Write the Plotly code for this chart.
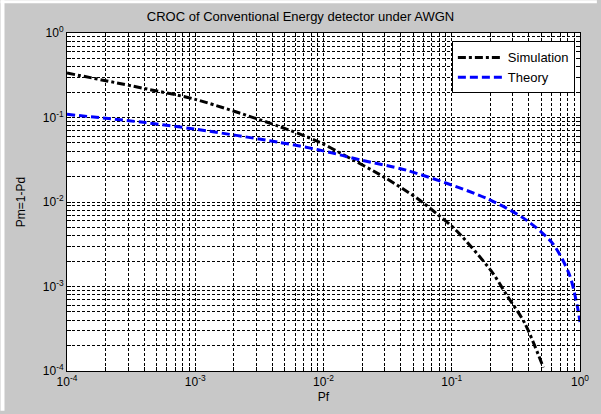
import plotly.graph_objects as go

# Simulation (black dash-dot)
pf_sim = [1e-4, 4.1e-4, 1e-3, 4.45e-3, 9.06e-3, 1.42e-2, 2.97e-2, 5.4e-2, 7.7e-2, 0.11, 0.205, 0.267, 0.37, 0.518]
pm_sim = [0.336, 0.219, 0.164, 0.079, 0.052, 0.0365, 0.0197, 0.011, 0.0072, 0.0045, 0.0015, 8e-4, 3.7e-4, 1.1e-4]

# Theory (blue dashed)
pf_th = [1e-4, 4.1e-4, 1e-3, 4.45e-3, 9.06e-3, 1.42e-2, 2.02e-2, 4.5e-2, 0.188, 0.382, 0.615, 0.826, 0.95, 1.0]
pm_th = [0.109, 0.087, 0.0728, 0.051, 0.0416, 0.0354, 0.031, 0.0236, 0.011, 0.0061, 0.0032, 0.00139, 6e-4, 3.8e-4]

decades = [-4, -3, -2, -1]
tick_vals = []
tick_text = []
for d in decades:
    for m in range(1, 10):
        tick_vals.append(m * 10.0 ** d)
        tick_text.append(f"10<sup>{d}</sup>" if m == 1 else "")
tick_vals.append(1.0)
tick_text.append("10<sup>0</sup>")

FONT = "Liberation Sans, Arial, sans-serif"

fig = go.Figure()
fig.add_trace(go.Scatter(x=pf_sim, y=pm_sim, mode="lines", name="Simulation",
                         line=dict(color="black", width=3, dash="8px,3px,3px,3px", shape="spline", smoothing=0.8)))
fig.add_trace(go.Scatter(x=pf_th, y=pm_th, mode="lines", name="Theory",
                         line=dict(color="#0000ff", width=3, dash="8px,4px", shape="spline", smoothing=0.8)))

grid_common = dict(
    type="log", showline=True, linecolor="black", linewidth=1, mirror="ticks",
    ticks="inside", ticklen=4, tickcolor="black",
    showgrid=True, gridcolor="black", gridwidth=1, griddash="3px,2px",
    tickmode="array", tickvals=tick_vals, ticktext=tick_text,
    tickfont=dict(family=FONT, size=12, color="black"),
    zeroline=False,
)

fig.update_xaxes(range=[-4, 0], title=dict(text="Pf", font=dict(family=FONT, size=12, color="black"), standoff=4),
                 **grid_common)
fig.update_yaxes(range=[-4, 0], title=dict(text="Pm=1-Pd", font=dict(family=FONT, size=12, color="black"), standoff=14),
                 **grid_common)

fig.update_layout(
    width=601, height=414,
    margin=dict(l=67, r=17, t=33, b=40),
    paper_bgcolor="#c8c8c8", plot_bgcolor="white",
    title=dict(text="CROC of Conventional Energy detector under AWGN", x=0.5, xanchor="center",
               y=1 - 16 / 414, yanchor="middle", font=dict(family=FONT, size=13, color="black")),
    legend=dict(x=0.99, xanchor="right", y=0.975, yanchor="top", bgcolor="white",
                bordercolor="black", borderwidth=1, font=dict(family=FONT, size=13, color="black"),
                itemwidth=45, tracegroupgap=0),
    showlegend=True,
)

# thin white strips at top and left edge of the window
fig.add_shape(type="rect", xref="paper", yref="paper", x0=-67 / 517, x1=-63 / 517, y0=-40 / 341, y1=1 + 33 / 341,
              fillcolor="white", line_width=0, layer="below")
fig.add_shape(type="rect", xref="paper", yref="paper", x0=-67 / 517, x1=1 + 17 / 517, y0=1 + 30 / 341, y1=1 + 33 / 341,
              fillcolor="white", line_width=0, layer="below")

fig.write_html("out.html")
